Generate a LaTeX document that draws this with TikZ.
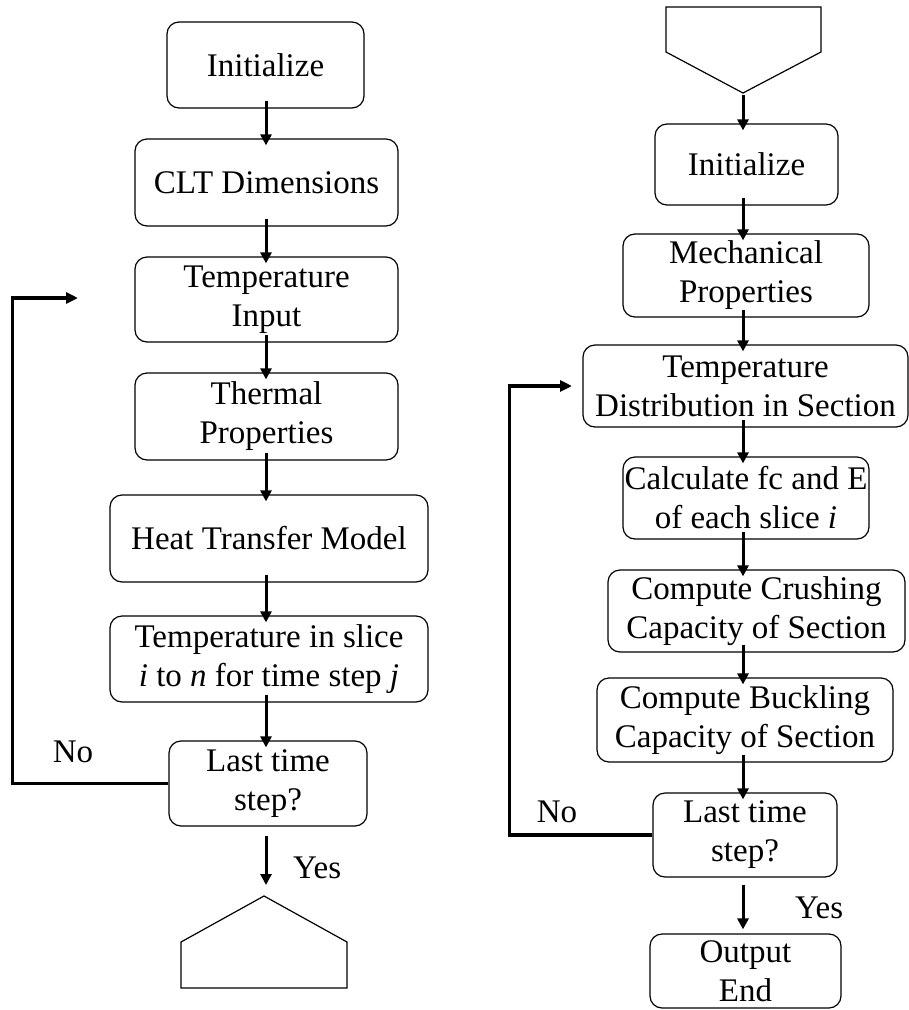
\documentclass[tikz,border=0pt]{standalone}
\usepackage{fontspec}
\setmainfont{Liberation Serif}
\usetikzlibrary{arrows.meta}
\begin{document}
\begin{tikzpicture}[x=1pt,y=-1pt,
  box/.style={draw, rounded corners=12pt, line width=1.2pt, align=center, inner sep=0pt,
              font=\fontsize{33}{39}\selectfont},
  flow/.style={line width=3pt, -{Triangle[length=11pt,width=11pt]}, shorten <=-8pt, shorten >=-7pt},
  loopline/.style={line width=3.2pt, -{Triangle[length=12pt,width=11pt]}},
  lbl/.style={font=\fontsize{33}{39}\selectfont, inner sep=0pt},
  conn/.style={line width=1.2pt}]
\useasboundingbox (0,0) rectangle (909,1010);

% ---------------- left column ----------------
\coordinate (Lx) at (266,0);
\node[box, minimum width=197pt, minimum height=86pt] (L1) at (265.5,65) {Initialize};
\node[box, minimum width=263pt, minimum height=87pt] (L2) at (266.5,182.5) {CLT Dimensions};
\node[box, minimum width=263pt, minimum height=85pt] (L3) at (266.5,299.5) {Temperature\\Input};
\node[box, minimum width=263pt, minimum height=87pt] (L4) at (266.5,416.5) {Thermal\\Properties};
\node[box, minimum width=318pt, minimum height=87pt] (L5) at (269,538.5) {Heat Transfer Model};
\node[box, minimum width=318pt, minimum height=86pt] (L6) at (269,659) {Temperature in slice\\\textit{i} to \textit{n} for time step \textit{j}};
\node[box, minimum width=198pt, minimum height=85pt] (L7) at (268,783.5) {Last time\\step?};

\draw[flow] (L1.south -| Lx) -- (L2.north -| Lx);
\draw[flow] (L2.south -| Lx) -- (L3.north -| Lx);
\draw[flow] (L3.south -| Lx) -- (L4.north -| Lx);
\draw[flow] (L4.south -| Lx) -- (L5.north -| Lx);
\draw[flow] (L5.south -| Lx) -- (L6.north -| Lx);
\draw[flow] (L6.south -| Lx) -- (L7.north -| Lx);

% off-page connector (left bottom)
\coordinate (LPa) at (264,896);
\coordinate (LPl) at (181,942);
\coordinate (LPr) at (347,942);
\coordinate (LPbl) at (181,988);
\coordinate (LPbr) at (347,988);
\draw[conn] (LPa) -- (LPr) -- (LPbr) -- (LPbl) -- (LPl) -- cycle;

\coordinate (Lyes) at (266,885);
\draw[flow, shorten <=9pt, shorten >=0pt] (L7.south -| Lx) -- (Lyes);
\node[lbl, anchor=west] (LyesT) at (293,868) {Yes};
\node[lbl] (LnoT) at (73,752) {No};

\coordinate (Lin) at (78,298);
\draw[loopline] (L7.west) -- ++(-156,0) |- (Lin);

% ---------------- right column ----------------
\coordinate (Rx) at (743,0);
\coordinate (RPa) at (743,93);
\coordinate (RPl) at (666,52);
\coordinate (RPr) at (821,52);
\coordinate (RPtl) at (666,7);
\coordinate (RPtr) at (821,7);
\draw[conn] (RPa) -- (RPr) -- (RPtr) -- (RPtl) -- (RPl) -- cycle;

\node[box, minimum width=183pt, minimum height=81pt] (R1) at (746.5,164.5) {Initialize};
\node[box, minimum width=246pt, minimum height=83pt] (R2) at (746,275.5) {Mechanical\\Properties};
\node[box, minimum width=325pt, minimum height=82pt] (R3) at (745.5,386) {Temperature\\Distribution in Section};
\node[box, minimum width=246pt, minimum height=82pt] (R4) at (746,498) {Calculate fc and E\\of each slice \textit{i}};
\node[box, minimum width=297pt, minimum height=82pt] (R5) at (756.5,611) {Compute Crushing\\Capacity of Section};
\node[box, minimum width=296pt, minimum height=84pt] (R6) at (745,720) {Compute Buckling\\Capacity of Section};
\node[box, minimum width=184pt, minimum height=84pt] (R7) at (745,835) {Last time\\step?};
\node[box, minimum width=191pt, minimum height=74pt] (R8) at (745.5,971) {Output\\End};

\draw[flow, shorten <=2pt] (RPa) -- (R1.north -| Rx);
\draw[flow] (R1.south -| Rx) -- (R2.north -| Rx);
\draw[flow] (R2.south -| Rx) -- (R3.north -| Rx);
\draw[flow] (R3.south -| Rx) -- (R4.north -| Rx);
\draw[flow] (R4.south -| Rx) -- (R5.north -| Rx);
\draw[flow] (R5.south -| Rx) -- (R6.north -| Rx);
\draw[flow] (R6.south -| Rx) -- (R7.north -| Rx);
\draw[flow, shorten <=7pt, shorten >=4pt] (R7.south -| Rx) -- (R8.north -| Rx);
\node[lbl, anchor=west] (RyesT) at (795,908) {Yes};
\node[lbl] (RnoT) at (557,812) {No};

\coordinate (Rin) at (572,386);
\draw[loopline] (R7.west) -- ++(-143,0) |- (Rin);
\end{tikzpicture}
\end{document}
